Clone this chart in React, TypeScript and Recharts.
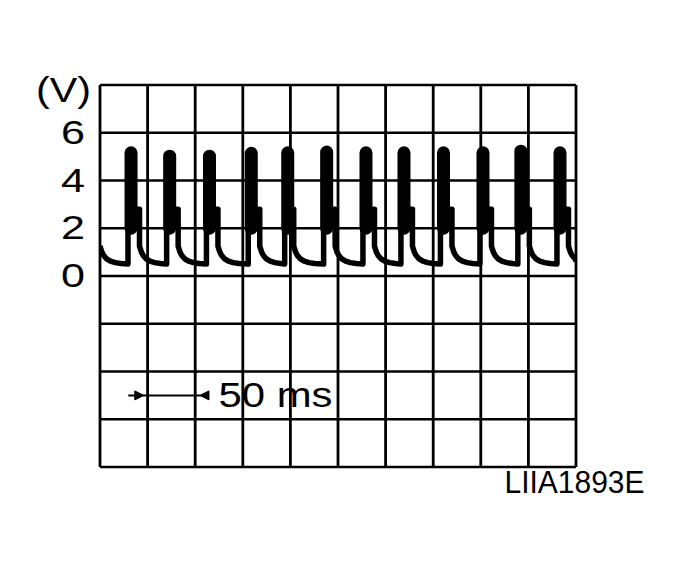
import React from 'react';
import { LineChart, Line, XAxis, YAxis, ReferenceLine, ReferenceDot, Label } from 'recharts';

// Oscilloscope grid (time in ms, voltage in V)
const timeGridMs = [0, 50, 100, 150, 200, 250, 300, 350, 400, 450, 500];
const voltGridV = [-8, -6, -4, -2, 0, 2, 4, 6, 8];
const voltTickV = [0, 2, 4, 6];

// Pulses
const pulseCenterMs = [32.6, 73.2, 115.0, 158.9, 197.2, 238.1, 279.4, 319.3, 360.8, 402.3, 442.1, 483.2];
const pulsePeakV = [5.16, 5.02, 5.02, 5.14, 5.16, 5.19, 5.16, 5.16, 5.16, 5.16, 5.23, 5.16];
const pulseRiseMs = [29.4, 70.0, 111.8, 155.7, 194.0, 234.9, 276.2, 316.1, 357.6, 399.1, 438.9, 480.0];
const pulseFallMs = [34.7, 75.3, 117.1, 161.0, 199.3, 240.2, 281.5, 321.4, 362.9, 404.4, 444.2, 485.3];
const pulseStepMs = [41.5, 82.1, 123.9, 167.8, 203.5, 247.0, 288.3, 328.2, 369.7, 411.2, 451.0, 492.1];
const bodyBottomV = 2.0;
const shoulderV = 2.8;
const baseV = 0.5;
const decayOffsetMs = [0, 2, 4, 7, 11, 16, 22];
const decayV = [1.25, 1.0, 0.85, 0.72, 0.62, 0.56, 0.52];
const traceEndMs = 500;
const traceEndV = 0.62;

// Annotation
const arrowV = -5;
const arrowStartMs = 29.7;
const arrowEndMs = 114.5;
const arrowLeftTipMs = 46;
const arrowRightTipMs = 105;
const annotTextMs = 124.5;
const annotTextV = -5.5;
const annotText = '50 ms';
const axisUnit = '(V)';
const figureId = 'LIIA1893E';

const FONT = '"Liberation Sans", Arial, Helvetica, sans-serif';

type Pt = { t: number; v: number | null };

const trace: Pt[] = [];
const pushDecay = (from: number, until: number) => {
  decayOffsetMs.forEach((o, k) => {
    const t = from + o;
    if (t < until) trace.push({ t, v: decayV[k] });
  });
};
pushDecay(0, pulseRiseMs[0]);
pulseRiseMs.forEach((rise, i) => {
  trace.push({ t: rise, v: baseV });
  trace.push({ t: rise, v: pulsePeakV[i] });
  trace.push({ t: pulseFallMs[i], v: pulsePeakV[i] });
  trace.push({ t: pulseFallMs[i], v: shoulderV });
  trace.push({ t: pulseStepMs[i], v: shoulderV });
  pushDecay(pulseStepMs[i], i + 1 < pulseRiseMs.length ? pulseRiseMs[i + 1] : traceEndMs);
});
trace.push({ t: traceEndMs, v: traceEndV });

const body: Pt[] = [];
pulseCenterMs.forEach((c, i) => {
  body.push({ t: c, v: bodyBottomV });
  body.push({ t: c, v: pulsePeakV[i] });
  body.push({ t: c, v: null });
});

const VoltTick = (props: any) => {
  const { x, y, payload } = props;
  return (
    <text
      x={x}
      y={y + 11}
      textAnchor="end"
      fontSize={34}
      fontFamily={FONT}
      fill="#000"
      textLength={24}
      lengthAdjust="spacingAndGlyphs"
    >
      {payload.value}
    </text>
  );
};

const UnitLabel = (props: any) => {
  const vb = props.viewBox;
  return (
    <text
      x={vb.x + 33.5}
      y={vb.y + 16.7}
      textAnchor="middle"
      fontSize={35}
      fontFamily={FONT}
      fill="#000"
      textLength={55}
      lengthAdjust="spacingAndGlyphs"
    >
      {axisUnit}
    </text>
  );
};

const IdLabel = (props: any) => {
  const vb = props.viewBox;
  return (
    <text
      x={vb.x + vb.width + 68.5}
      y={vb.y + 26}
      textAnchor="end"
      fontSize={32}
      fontFamily={FONT}
      fill="#000"
      textLength={140}
      lengthAdjust="spacingAndGlyphs"
    >
      {figureId}
    </text>
  );
};

const AnnotText = (props: any) => (
  <text
    x={props.cx}
    y={props.cy}
    textAnchor="start"
    fontSize={35}
    fontFamily={FONT}
    fill="#000"
    textLength={114}
    lengthAdjust="spacingAndGlyphs"
  >
    {annotText}
  </text>
);

const HeadRight = (props: any) => {
  const { cx, cy } = props;
  return <path d={`M${cx},${cy} L${cx - 9},${cy - 4.5} L${cx - 9},${cy + 4.5} Z`} fill="#000" stroke="#000" strokeWidth={1} />;
};
const HeadLeft = (props: any) => {
  const { cx, cy } = props;
  return <path d={`M${cx},${cy} L${cx + 9},${cy - 4.5} L${cx + 9},${cy + 4.5} Z`} fill="#000" stroke="#000" strokeWidth={1} />;
};

export default function App() {
  return (
    <div style={{ width: 663, height: 554 }}>
      <LineChart width={663} height={554} margin={{ top: 77, right: 95, bottom: 55, left: 22 }}>
        <XAxis
          type="number"
          dataKey="t"
          domain={[0, 500]}
          ticks={timeGridMs}
          tick={false}
          tickLine={false}
          axisLine={false}
          height={40}
          allowDataOverflow
        >
          <Label content={IdLabel} />
        </XAxis>
        <YAxis
          type="number"
          dataKey="v"
          domain={[-8, 8]}
          ticks={voltTickV}
          tick={VoltTick}
          tickLine={false}
          axisLine={false}
          tickMargin={9}
          width={70}
          interval={0}
          allowDataOverflow
        >
          <Label content={UnitLabel} />
        </YAxis>
        {timeGridMs.map((t) => (
          <ReferenceLine key={`vx${t}`} x={t} stroke="#000" strokeWidth={2.8} />
        ))}
        {voltGridV.map((v) => (
          <ReferenceLine key={`hy${v}`} y={v} stroke="#000" strokeWidth={2.6} />
        ))}
        <ReferenceLine
          segment={[
            { x: arrowStartMs, y: arrowV },
            { x: arrowEndMs, y: arrowV },
          ]}
          stroke="#000"
          strokeWidth={2}
        />
        <ReferenceDot x={arrowLeftTipMs} y={arrowV} r={0} shape={HeadRight} />
        <ReferenceDot x={arrowRightTipMs} y={arrowV} r={0} shape={HeadLeft} />
        <ReferenceDot x={annotTextMs} y={annotTextV} r={0} shape={AnnotText} />
        <Line
          data={body}
          dataKey="v"
          type="linear"
          stroke="#000"
          strokeWidth={13}
          strokeLinecap="round"
          dot={false}
          activeDot={false}
          connectNulls={false}
          isAnimationActive={false}
        />
        <Line
          data={trace}
          dataKey="v"
          type="linear"
          stroke="#000"
          strokeWidth={5.5}
          strokeLinejoin="round"
          dot={false}
          activeDot={false}
          isAnimationActive={false}
        />
      </LineChart>
    </div>
  );
}
